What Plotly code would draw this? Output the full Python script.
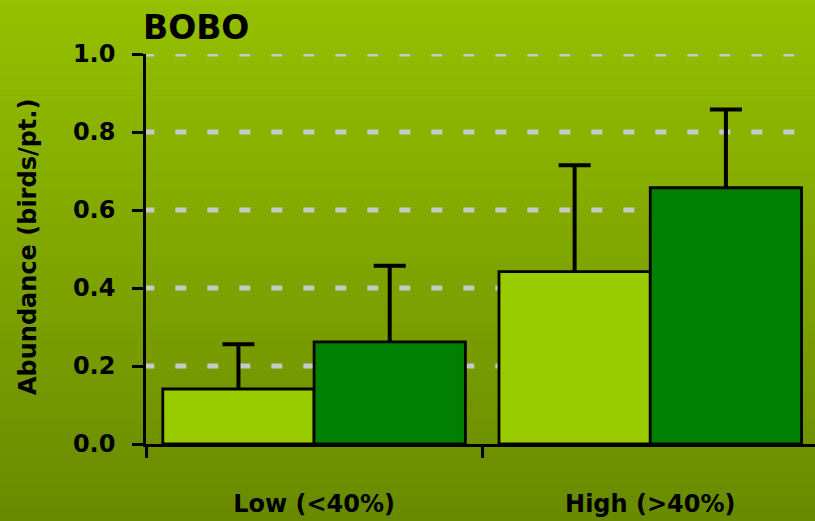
import plotly.graph_objects as go

categories = ["Low (<40%)", "High (>40%)"]
series_names = ["Light", "Dark"]
light_values = [0.141, 0.442]
light_errors = [0.115, 0.273]
dark_values = [0.262, 0.657]
dark_errors = [0.195, 0.201]
y_ticks = [0.0, 0.2, 0.4, 0.6, 0.8, 1.0]
grid_values = [0.2, 0.4, 0.6, 0.8, 1.0]
title_text = "BOBO"
y_title = "Abundance (birds/pt.)"

W, H = 815, 521
ML, MR, MT, MB = 146, 0, 54, 77
PW, PH = W - ML - MR, H - MT - MB
FONT = "DejaVu Sans"
X_RANGE = [-0.5, 1.49]

fig = go.Figure()
# error bars (drawn underneath the bars so only the upper half shows)
for name, vals, errs in [(series_names[0], light_values, light_errors),
                         (series_names[1], dark_values, dark_errors)]:
    fig.add_trace(go.Bar(
        name=name + " error", x=categories, y=vals, xaxis="x", yaxis="y",
        marker=dict(color="rgba(0,0,0,0)", line=dict(width=0)),
        error_y=dict(type="data", array=errs, symmetric=True,
                     color="black", thickness=4, width=16),
        hoverinfo="skip",
    ))
# the bars themselves on an overlaid subplot
fig.add_trace(go.Bar(
    name=series_names[0], x=categories, y=light_values, xaxis="x2", yaxis="y2",
    marker=dict(color="#99CC00", line=dict(color="black", width=2.8)),
))
fig.add_trace(go.Bar(
    name=series_names[1], x=categories, y=dark_values, xaxis="x2", yaxis="y2",
    marker=dict(color="#008000", line=dict(color="black", width=2.8)),
))

shapes = []
# vertical gradient background
top = (149, 192, 0)
bot = (105, 138, 0)
n = 104
step = H / n
for i in range(n):
    t = (i + 0.5) / n
    c = tuple(round(top[k] + (bot[k] - top[k]) * t) for k in range(3))
    py0 = i * step
    py1 = (i + 1) * step + 0.6
    shapes.append(dict(
        type="rect", xref="paper", yref="paper", layer="below",
        x0=(0 - ML) / PW, x1=(W - ML) / PW,
        y0=(H - MB - py1) / PH, y1=(H - MB - py0) / PH,
        fillcolor=f"rgb{c}", line=dict(width=0),
    ))
for v in grid_values:
    shapes.append(dict(
        type="line", xref="paper", yref="y", layer="below",
        x0=-0.004, x1=1, y0=v, y1=v,
        line=dict(color="#C8C8C8", width=5, dash="11px,21px"),
    ))

fig.update_layout(
    width=W, height=H,
    margin=dict(l=ML, r=MR, t=MT, b=MB),
    paper_bgcolor="#82A800", plot_bgcolor="rgba(0,0,0,0)",
    barmode="group", bargap=0.1, bargroupgap=0,
    showlegend=False,
    shapes=shapes,
    font=dict(family=FONT, color="black"),
    title=dict(text=title_text, x=143 / W, xanchor="left", xref="container",
               y=1 - 27 / H, yanchor="middle", yref="container",
               font=dict(family=FONT, size=33, weight="bold", color="black")),
    annotations=[dict(
        text=y_title, textangle=-90, xref="paper", yref="paper",
        x=(28 - ML) / PW, y=(H - MB - 247) / PH, xanchor="center", yanchor="middle",
        showarrow=False, font=dict(family=FONT, size=24, weight="bold", color="black"),
    )],
    xaxis=dict(
        range=X_RANGE, showline=True, linecolor="black", linewidth=2.5,
        ticks="outside", tickson="boundaries", ticklen=11, tickwidth=2.5, tickcolor="black",
        showgrid=False, ticklabelstandoff=36,
        tickfont=dict(family=FONT, size=24, weight="bold", color="black"),
    ),
    yaxis=dict(
        range=[0, 1], tickvals=y_ticks, tickformat=".1f",
        showline=True, linecolor="black", linewidth=2.5,
        ticks="outside", ticklen=11, tickwidth=2.5, tickcolor="black",
        showgrid=False, zeroline=False, ticklabelstandoff=12,
        tickfont=dict(family=FONT, size=24, weight="bold", color="black"),
    ),
    xaxis2=dict(range=X_RANGE, overlaying="x", visible=False, type="category",
                categoryarray=categories),
    yaxis2=dict(range=[0, 1], overlaying="y", visible=False),
)

fig.write_html("out.html")
